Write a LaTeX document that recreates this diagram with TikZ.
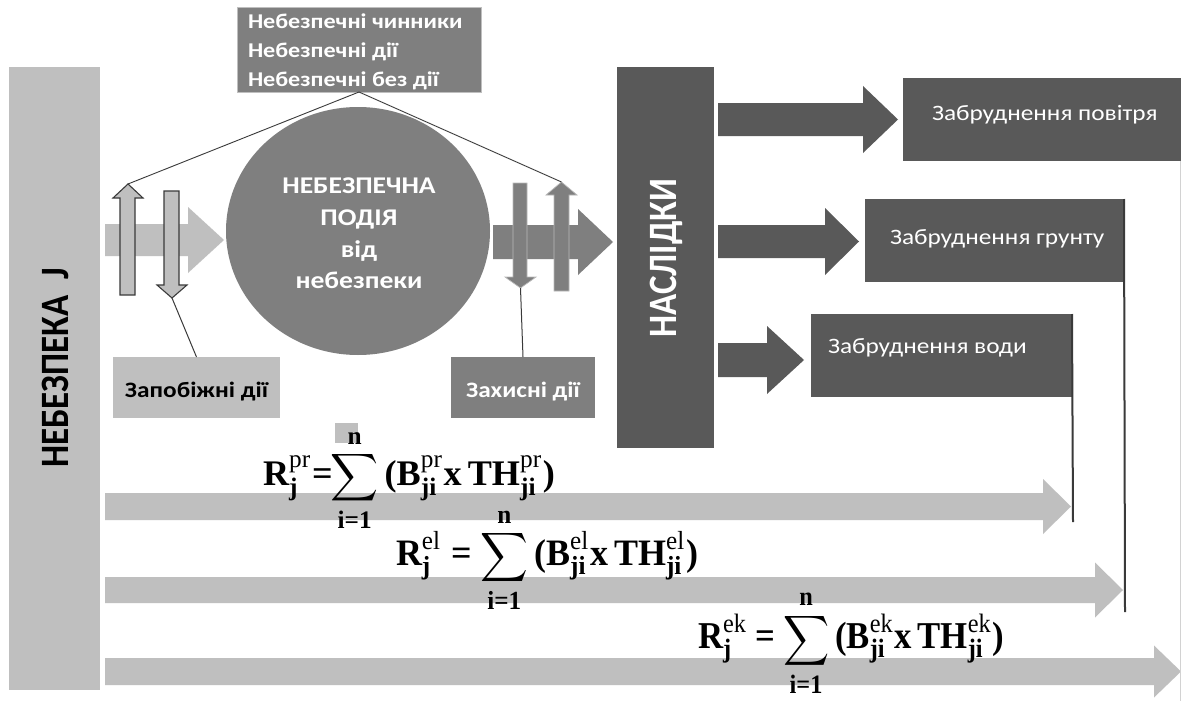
\documentclass[tikz,border=0pt]{standalone}
\usepackage{amsmath}
\usepackage{graphicx}
\usepackage{fontspec}
\setmainfont{Carlito}
\newfontfamily\tmsfont{Liberation Serif}
\usetikzlibrary{shapes.geometric}
\definecolor{lg}{HTML}{BFBFBF}
\definecolor{mg}{HTML}{7F7F7F}
\definecolor{dg}{HTML}{595959}
\definecolor{ln}{HTML}{3A3A3A}
\newcommand\tb[1]{\text{\tmsfont\bfseries #1}}
\newcommand\tr[1]{\text{\tmsfont #1}}
\newcommand\midsum{\mathop{\raisebox{-0.06em}{$\vcenter{\hbox{\scalebox{0.92}{$\displaystyle\sum$}}}$}}}
% #1 superscript, #2 space before '=', #3 space after '='
\newcommand\rform[3]{\tb{R}^{\tr{#1}}_{\tb{j}}\mkern#2mu\tb{=}\mkern#3mu\midsum\limits_{\tb{i=1}}^{\tb{n}}\tb{(}\tb{B}^{\tr{#1}}_{\tb{ji}}\tb{x}\,\tb{TH}^{\tr{#1}}_{\tb{ji}}\tb{)}}
% horizontal block arrow: style, x0, xhead, xtip, yc, shaft half, head half
\newcommand\harrow[7]{\fill[#1] (#2,{#5-#6}) -- (#3,{#5-#6}) -- (#3,{#5-#7}) -- (#4,#5) -- (#3,{#5+#7}) -- (#3,{#5+#6}) -- (#2,{#5+#6}) -- cycle;}
% vertical block arrow: style, shaft xl, xr, head xl, xr, tip y, head base y, end y
\newcommand\varrow[8]{\filldraw[#1] (#2,#8) -- (#2,#7) -- (#4,#7) -- ({(#4+#5)/2},#6) -- (#5,#7) -- (#3,#7) -- (#3,#8) -- cycle;}
\newcommand\sx[1]{\scalebox{1.15}[1]{#1}}
\newcommand\sy[1]{\scalebox{1}[1.15]{#1}}
\tikzset{
  every node/.style={inner sep=0pt, outer sep=0pt},
  boxnw/.style={anchor=north west, minimum width=#1},
  bigtxt/.style={font=\fontsize{#1}{#1}\selectfont\bfseries},
  regtxt/.style={font=\fontsize{#1}{#1}\selectfont},
  conn/.style={draw=ln, line width=1pt},
}
\begin{document}
\begin{tikzpicture}[x=1pt,y=-1pt]
\useasboundingbox (0,0) rectangle (1181,701);
\fill[white] (0,0) rectangle (1181,701);

% left bar
\node[boxnw=91pt, minimum height=623pt, fill=lg] (hazard) at (9,67) {};
\node[rotate=90, bigtxt=35, text=black] (hazardt) at (55,368) {\sy{НЕБЕЗПЕКА\ \ J}};

% bottom light arrows
\harrow{lg}{105}{1043}{1071}{506.5}{13.5}{27.5}
\harrow{lg}{105}{1095}{1123}{590}{13}{27.5}
\harrow{lg}{105}{1154}{1181}{671.5}{13.5}{26}

% left horizontal arrow
\harrow{lg}{105}{188}{224}{240}{16}{33}
% event circle
\node[ellipse, fill=mg, minimum width=264pt, minimum height=248pt] (event) at (358,231) {};
\node[bigtxt=24, text=white, anchor=base] (ev1) at (359,193) {\sx{НЕБЕЗПЕЧНА}};
\node[bigtxt=24, text=white, anchor=base] (ev2) at (359,225) {\sx{ПОДІЯ}};
\node[bigtxt=24, text=white, anchor=base] (ev3) at (359,257) {\sx{від}};
\node[bigtxt=24, text=white, anchor=base] (ev4) at (359,288) {\sx{небезпеки}};

% right horizontal arrow
\harrow{mg}{493}{578}{613}{242}{17}{33}

% small vertical arrows
\varrow{fill=lg, draw=ln, line width=1.1pt}{120}{135}{113}{143}{184}{198}{295}
\varrow{fill=lg, draw=ln, line width=1.1pt}{164}{179}{157}{187}{298}{285}{191}
\varrow{fill=mg, draw=mg!55!white, line width=0.7pt}{513}{527}{505}{536}{288}{277}{183}
\varrow{fill=mg, draw=mg!55!white, line width=0.7pt}{554}{569}{546}{577}{182}{195}{291}
\coordinate (lupTip) at (128,184);
\coordinate (ldnTip) at (172,298);
\coordinate (rdnTip) at (520.5,288);
\coordinate (rupTip) at (561.5,182);

% top box
\node[boxnw=244pt, minimum height=85pt, fill=mg, draw=lg, line width=0.8pt] (haz) at (237,7) {};
\node[bigtxt=21, text=white, anchor=base west] (hz1) at (248,29) {\sx{Небезпечні чинники}};
\node[bigtxt=21, text=white, anchor=base west] (hz2) at (248,58) {\sx{Небезпечні дії}};
\node[bigtxt=21, text=white, anchor=base west] (hz3) at (248,87) {\sx{Небезпечні без дії}};
\draw[conn, line width=0.9pt] (lupTip) -- (haz.south) -- (rupTip);

% action boxes
\node[boxnw=167pt, minimum height=61pt, fill=lg] (prev) at (113,357) {};
\node[bigtxt=22, text=black, anchor=base] (prevt) at (196.5,397) {\sx{Запобіжні дії}};
\node[boxnw=144pt, minimum height=61pt, fill=mg] (prot) at (451,357) {};
\node[bigtxt=22, text=white, anchor=base] (prott) at (523,397) {\sx{Захисні дії}};
\draw[conn] (ldnTip) -- (prev.north);
\draw[conn] (rdnTip) -- (prot.north);

% consequences bar
\node[boxnw=97pt, minimum height=381pt, fill=dg] (cons) at (617,67) {};
\node[rotate=90, bigtxt=35, text=white] (const) at (666,258) {\sy{НАСЛІДКИ}};

% consequence arrows
\harrow{dg}{718}{863}{898}{119.5}{16.5}{33.5}
\harrow{dg}{718}{825}{859}{241.5}{16.5}{33.5}
\harrow{dg}{718}{767}{804}{360}{17}{34}

% result boxes
\node[boxnw=278pt, minimum height=83pt, fill=dg] (air) at (903,78) {};
\node[regtxt=22, text=white, anchor=base west] (airt) at (932,120) {\sx{Забруднення повітря}};
\node[boxnw=260pt, minimum height=83pt, fill=dg] (soil) at (865,199) {};
\node[regtxt=22, text=white, anchor=base west] (soilt) at (890,244) {\sx{Забруднення грунту}};
\node[boxnw=262pt, minimum height=83pt, fill=dg] (water) at (811,314) {};
\node[regtxt=22, text=white, anchor=base west] (watert) at (828,353) {\sx{Забруднення води}};
\coordinate (airEnd) at (1180,701);
\coordinate (soilEnd) at (1125,612);
\coordinate (waterEnd) at (1073,522);
\draw[draw=lg!70, line width=1pt] (air.south east) ++(-1,0) -- (airEnd);
\draw[conn, line width=2pt] (soil.north east) ++(-1,0) -- (soilEnd);
\draw[conn, line width=2pt] (water.north east) ++(-1,0) -- (waterEnd);

% formulas
\fill[lg] (335,423) rectangle (358,443);
\node[anchor=base west] (f1) at (263,485) {\resizebox{292pt}{56pt}{$\rform{pr}{0}{-4}$}};
\node[anchor=base west] (f2) at (396,565) {\resizebox{302pt}{58pt}{$\rform{el}{5}{1}$}};
\node[anchor=base west] (f3) at (698,648) {\resizebox{306pt}{59pt}{$\rform{ek}{4}{1}$}};
\end{tikzpicture}
\end{document}
